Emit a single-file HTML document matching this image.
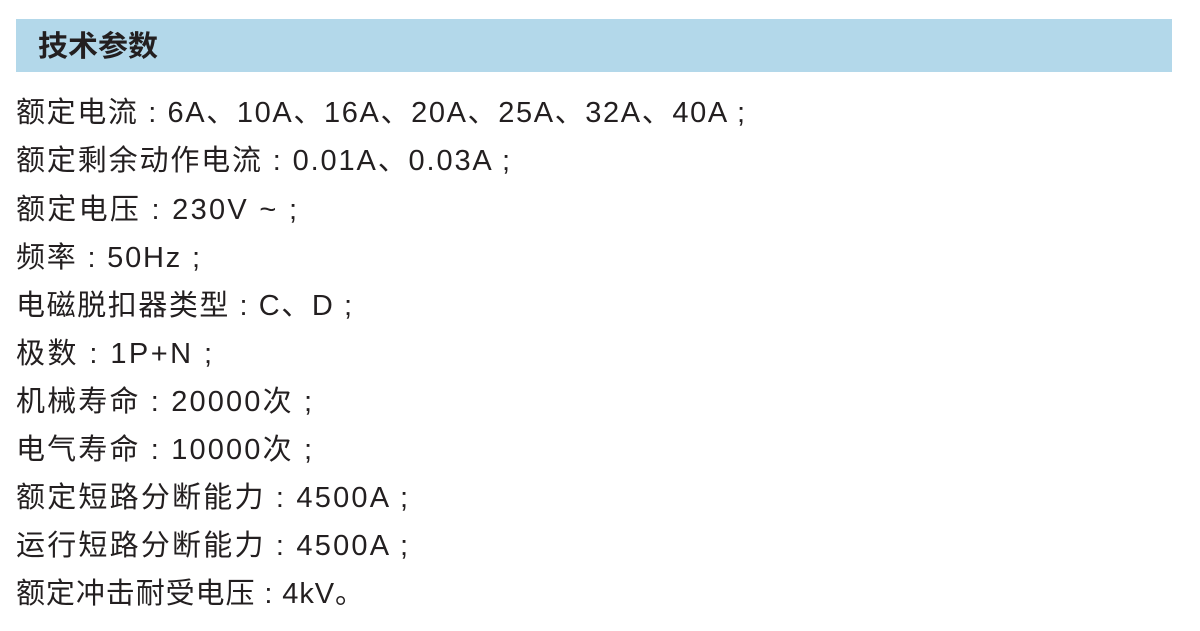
<!DOCTYPE html>
<html><head><meta charset="utf-8"><style>
html,body{margin:0;padding:0;background:#fff;width:1200px;height:631px;overflow:hidden}
svg{display:block}
text{font-family:"Liberation Sans","Noto Sans CJK SC",sans-serif;fill:#231f20;font-size:29px}
</style></head><body>
<svg width="1200" height="631" viewBox="0 0 1200 631">
<rect x="16" y="19" width="1156" height="53" fill="#b3d8ea"/>
<text x="38" y="56" font-weight="bold" font-size="28" textLength="120" lengthAdjust="spacingAndGlyphs">技术参数</text>
<text x="16" y="122" textLength="729" lengthAdjust="spacing">额定电流 : 6A、10A、16A、20A、25A、32A、40A ;</text>
<text x="16" y="170" textLength="494" lengthAdjust="spacing">额定剩余动作电流 : 0.01A、0.03A ;</text>
<text x="16" y="219" textLength="281" lengthAdjust="spacing">额定电压 : 230V ~ ;</text>
<text x="16" y="267" textLength="184" lengthAdjust="spacing">频率 : 50Hz ;</text>
<text x="16" y="315" textLength="336" lengthAdjust="spacing">电磁脱扣器类型 : C、D ;</text>
<text x="16" y="363" textLength="196" lengthAdjust="spacing">极数 : 1P+N ;</text>
<text x="16" y="411" textLength="296" lengthAdjust="spacing">机械寿命 : 20000次 ;</text>
<text x="16" y="459" textLength="296" lengthAdjust="spacing">电气寿命 : 10000次 ;</text>
<text x="16" y="507" textLength="392" lengthAdjust="spacing">额定短路分断能力 : 4500A ;</text>
<text x="16" y="555" textLength="392" lengthAdjust="spacing">运行短路分断能力 : 4500A ;</text>
<text x="16" y="603" textLength="348" lengthAdjust="spacing">额定冲击耐受电压 : 4kV。</text>
</svg>
</body></html>
